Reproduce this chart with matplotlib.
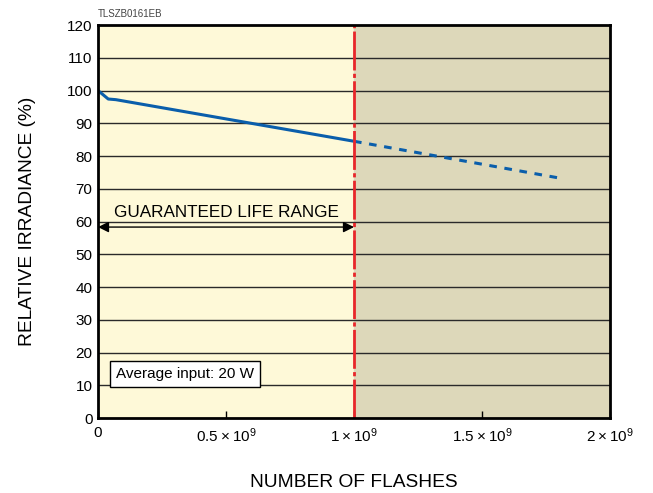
import matplotlib
matplotlib.use("Agg")
import matplotlib.pyplot as plt

plt.rcParams['font.family'] = ['Liberation Sans', 'DejaVu Sans']
plt.rcParams['mathtext.fontset'] = 'custom'
plt.rcParams['mathtext.rm'] = 'Liberation Sans'

# data (flashes in units of 1e9, relative irradiance %)
flashes_solid = [0.0, 0.04, 0.07, 1.0]
irr_solid = [100.0, 97.4, 97.2, 84.5]
flashes_dashed = [1.0, 1.8]
irr_dashed = [84.5, 73.3]
guaranteed_limit = 1.0
x_ticks = [0, 0.5, 1.0, 1.5, 2.0]
x_tick_labels = ['0', r'$\mathregular{0.5\times10^9}$', r'$\mathregular{1\times10^9}$',
                 r'$\mathregular{1.5\times10^9}$', r'$\mathregular{2\times10^9}$']
y_ticks = list(range(0, 121, 10))

fig = plt.figure(figsize=(6.53, 4.93), dpi=100)
ax = fig.add_axes([98/653, 1-418/493, 512/653, 393/493])
ax.set_xlim(0, 2)
ax.set_ylim(0, 120)

ax.axvspan(0, guaranteed_limit, color='#FEF9D8', zorder=0)
ax.axvspan(guaranteed_limit, 2, color='#DDD8BA', zorder=0)
for y in y_ticks[1:-1]:
    ax.axhline(y, color='#2a2a2a', lw=1.0, zorder=1)

ax.plot(flashes_solid, irr_solid, color='#0A5EAB', lw=2.2, zorder=3, solid_capstyle='butt')
ax.plot(flashes_dashed, irr_dashed, color='#0A5EAB', lw=2.2, zorder=3,
        linestyle=(0, (2.5, 2.5)))
ax.axvline(guaranteed_limit, color='#E8262A', lw=2.0, zorder=4,
           linestyle=(0, (14, 1.2, 1.5, 1.2)))

ax.annotate('', xy=(0.0, 58.3), xytext=(guaranteed_limit, 58.3),
            arrowprops=dict(arrowstyle='<|-|>', color='black', lw=1.0,
                            mutation_scale=16, shrinkA=0, shrinkB=0), zorder=5)
ax.text(0.5, 62.6, 'GUARANTEED LIFE RANGE', ha='center', va='center', fontsize=12.3,
        zorder=5, bbox=dict(facecolor='#FEF9D8', edgecolor='none', pad=0.5))

ax.text(0.07, 13.4, 'Average input: 20 W', ha='left', va='center', fontsize=11, zorder=5,
        bbox=dict(facecolor='white', edgecolor='black', lw=1.0, boxstyle='square,pad=0.4'))

ax.set_xticks(x_ticks)
ax.set_xticklabels(x_tick_labels, fontsize=11)
ax.set_yticks(y_ticks)
ax.set_yticklabels([str(v) for v in y_ticks], fontsize=11)
ax.tick_params(axis='x', direction='in', length=5, width=1, pad=6)
ax.tick_params(axis='y', direction='in', length=0, pad=4)
for s in ax.spines.values():
    s.set_linewidth(2)
    s.set_zorder(6)

ax.set_ylabel('RELATIVE IRRADIANCE (%)', fontsize=13.8, labelpad=22)
ax.set_xlabel('NUMBER OF FLASHES', fontsize=13.8, labelpad=21)
fig.text(98/653, 1-14/493, 'TLSZB0161EB', fontsize=7, color='#444444', va='center', ha='left')

fig.savefig('out.png', dpi=100)
